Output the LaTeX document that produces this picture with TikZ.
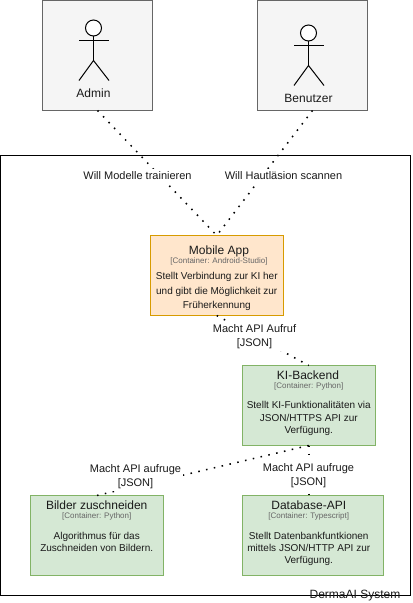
\documentclass[tikz,border=0pt]{standalone}
\usepackage{fontspec}
\setmainfont{Liberation Sans}
\definecolor{grayfill}{HTML}{F5F5F5}
\definecolor{graydraw}{HTML}{666666}
\definecolor{orangefill}{HTML}{FFE6CC}
\definecolor{orangedraw}{HTML}{D79B00}
\definecolor{greenfill}{HTML}{D5E8D4}
\definecolor{greendraw}{HTML}{82B366}
\definecolor{ink}{HTML}{1A1A1A}
\definecolor{subink}{HTML}{666666}
\tikzset{
  x=.75pt,y=-.75pt,
  every node/.style={inner sep=0pt,outer sep=0pt},
  actorbox/.style={draw=graydraw,fill=grayfill,line width=.75pt,minimum width=82.5pt,minimum height=82.875pt},
  appbox/.style={draw=orangedraw,fill=orangefill,line width=.75pt,minimum width=99.375pt,minimum height=60pt},
  svcbox/.style={draw=greendraw,fill=greenfill,line width=.75pt,minimum width=99.375pt,minimum height=60pt},
  dbbox/.style={svcbox,minimum width=105.375pt},
  sysbox/.style={draw=black,line width=.75pt,minimum width=307.5pt,minimum height=330pt},
  rel/.style={draw=black,line width=1.15pt,dash pattern=on 1.15pt off 4.85pt},
  limb/.style={draw=black,line width=.75pt},
  head/.style={circle,draw=black,fill=white,line width=.75pt,minimum size=12pt},
  txt/.style={text=ink,font=\fontsize{9}{10.5}\selectfont,text height=6.5pt,text depth=1.9pt,yshift=-1.1pt},
  titletxt/.style={txt},
  subtxt/.style={text=subink,font=\fontsize{6}{7}\selectfont,text height=4.4pt,text depth=1.3pt,yshift=-.6pt},
  desctxt/.style={text=ink,font=\fontsize{7.5}{9}\selectfont,text height=5.4pt,text depth=1.6pt,yshift=-1.1pt},
  rellabel/.style={fill=white,text=ink,font=\fontsize{8.25}{10.5}\selectfont,align=center,inner xsep=1.5pt,inner ysep=2pt},
}
\begin{document}
\begin{tikzpicture}
\useasboundingbox (0,0) rectangle (412,603);
\node[sysbox] (system) at (205.5,375.5) {};
\node[actorbox] (admin) at (97.5,55.25) {};
\node[actorbox] (benutzer) at (312.5,55.25) {};
\node[appbox] (mobile) at (216.75,275.5) {};
\node[svcbox] (backend) at (308.75,405.5) {};
\node[svcbox] (bilder) at (96.75,535.5) {};
\node[dbbox] (database) at (312.75,535.5) {};
% Admin figure
\node[head] (ahead) at (93.5,28) {};
\coordinate (ahip) at (93.5,60.5);
\coordinate (aarml) at (79,40.5);
\coordinate (aarmr) at (109,40.5);
\coordinate (alegl) at (79,80.5);
\coordinate (alegr) at (109,80.5);
\draw[limb] (ahead) -- (ahip);
\draw[limb] (aarml) -- (aarmr);
\draw[limb] (alegl) -- (ahip) -- (alegr);
% Benutzer figure
\node[head] (bhead) at (308.5,33) {};
\coordinate (bhip) at (308.5,65.5);
\coordinate (barml) at (294,45.5);
\coordinate (barmr) at (324,45.5);
\coordinate (blegl) at (294,85.5);
\coordinate (blegr) at (324,85.5);
\draw[limb] (bhead) -- (bhip);
\draw[limb] (barml) -- (barmr);
\draw[limb] (blegl) -- (bhip) -- (blegr);
% connectors
\draw[rel] (admin.south) -- (mobile.north);
\draw[rel] (benutzer.south) -- (mobile.north);
\draw[rel] (mobile.south) -- (backend.north);
\draw[rel] (backend.south) -- (bilder.north);
\coordinate (dbtop) at (backend.south |- database.north);
\draw[rel] (backend.south) -- (dbtop);
% connector labels
\node[rellabel] (l1) at (137.5,176) {Will Modelle trainieren};
\node[rellabel] (l2) at (283.5,176) {Will Hautläsion scannen};
\node[rellabel] (l3) at (254.5,336.5) {Macht API Aufruf\\{[JSON]}};
\node[rellabel] (l4) at (135.5,476.5) {Macht API aufruge\\{[JSON]}};
\node[rellabel] (l5) at (308.5,475.5) {Macht API aufruge\\{[JSON]}};
% actor names
\node[txt] (tadmin) at (93.5,93) {Admin};
\node[txt] (tbenutzer) at (308.5,98) {Benutzer};
% mobile
\node[titletxt] (m1) at (219,249.5) {Mobile App};
\node[subtxt] (m2) at (219,261) {[Container: Android-Studio]};
\node[desctxt] (m3) at (216.75,275.5) {Stellt Verbindung zur KI her};
\node[desctxt] (m4) at (216.75,290.5) {und gibt die Möglichkeit zur};
\node[desctxt] (m5) at (216.75,304) {Früherkennung};
% backend
\node[titletxt] (k1) at (308,374.5) {KI-Backend};
\node[subtxt] (k2) at (308.75,386) {[Container: Python]};
\node[desctxt] (k3) at (308.75,404.5) {Stellt KI-Funktionalitäten via};
\node[desctxt] (k4) at (308.75,417.5) {JSON/HTTPS API zur};
\node[desctxt] (k5) at (308.75,429.5) {Verfügung.};
% bilder
\node[titletxt] (b1) at (96.75,504.5) {Bilder zuschneiden};
\node[subtxt] (b2) at (96.75,516) {[Container: Python]};
\node[desctxt] (b3) at (96.75,535.5) {Algorithmus für das};
\node[desctxt] (b4) at (96.75,547.5) {Zuschneiden von Bildern.};
% database
\node[titletxt] (d1) at (308.75,504.5) {Database-API};
\node[subtxt] (d2) at (308.75,516) {[Container: Typescript]};
\node[desctxt] (d3) at (308.75,535.5) {Stellt Datenbankfuntkionen};
\node[desctxt] (d4) at (308.75,547.5) {mittels JSON/HTTP API zur};
\node[desctxt] (d5) at (308.75,559.5) {Verfügung.};
% system
\node[txt] (tsystem) at (355,594) {DermaAI System};
\end{tikzpicture}
\end{document}
